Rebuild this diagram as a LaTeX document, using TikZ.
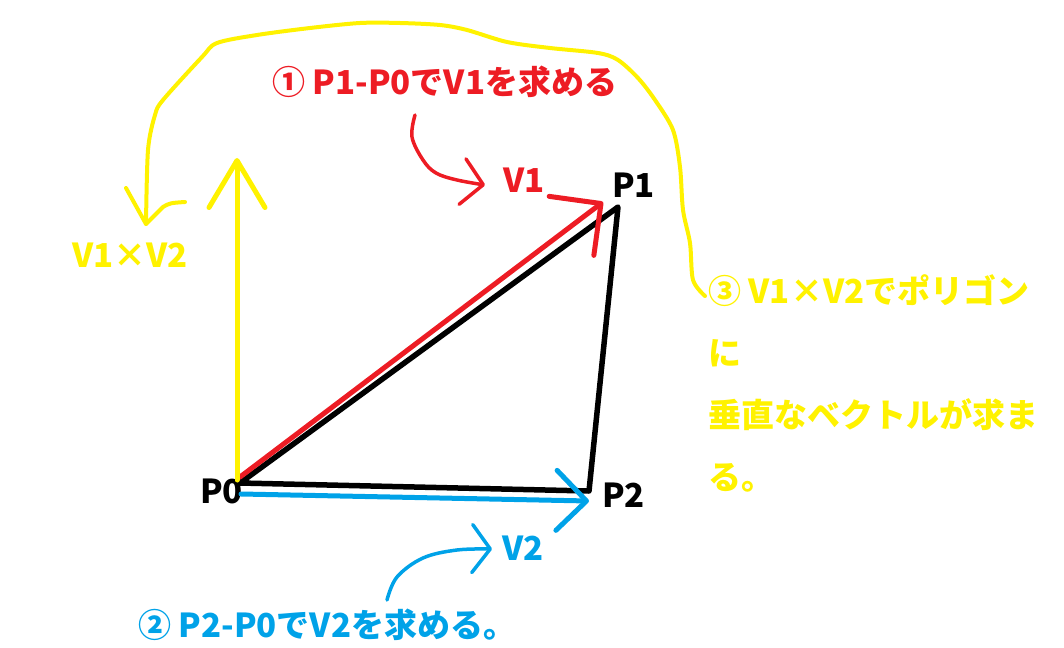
\documentclass[tikz,border=0pt]{standalone}
\usepackage{fontspec}
\setmainfont{Noto Sans CJK JP}
\usetikzlibrary{arrows.meta}
\definecolor{pyellow}{HTML}{FFF200}
\definecolor{pred}{HTML}{ED1C24}
\definecolor{pblue}{HTML}{00A2E8}
\tikzset{
  lbl/.style={font=\fontsize{33}{62}\selectfont\bfseries, inner sep=0pt, anchor=base west, align=left},
  edge/.style={draw=black, line width=5.5pt, line join=round, line cap=round},
  vec/.style={line width=5pt, line cap=round},
  curl/.style={line width=3.5pt, line cap=round, line join=round}
}

\begin{document}
\begin{tikzpicture}[x=1pt, y=-1pt]
    \useasboundingbox (0,0) rectangle (1064,647);
    % triangle corners
    \coordinate (p0) at (240,483);
    \coordinate (p1) at (618,207);
    \coordinate (p2) at (589,491);
    % vector ends
    \coordinate (v1s) at (240,477);
    \coordinate (v1e) at (603,202);
    \coordinate (v2s) at (241,494);
    \coordinate (v2e) at (589,501);
    \coordinate (ns) at (237,480);
    \coordinate (ne) at (237,158);
    \coordinate (ytip) at (146,224);
    % labels
    \node[lbl] (lp0) at (200,503) {P0};
    \node[lbl] (lp1) at (612,197) {P1};
    \node[lbl] (lp2) at (602,507) {P2};
    \node[lbl, text=pred] (lv1) at (503,192) {V1};
    \node[lbl, text=pblue] (lv2) at (502,560) {V2};
    \node[lbl, text=pyellow] (ln) at (72,267) {V1×V2};
    \node[lbl, text=pred] (step1) at (272,95) {① P1-P0でV1を求める};
    \node[lbl, text=pblue] (step2) at (138,637) {② P2-P0でV2を求める。};
    \node[lbl, text=pyellow] (step3) at (708,489) {③ V1×V2でポリゴン\\に\\垂直なベクトルが求ま\\る。};
    % triangle
    \draw[edge] (p0) -- (p1) -- (p2) -- cycle;
    % vectors
    \draw[vec, pred, -{Straight Barb[round, length=37pt, width=74pt]}] (v1s) -- (v1e);
    \draw[vec, pblue, -{Straight Barb[round, length=30pt, width=60pt]}] (v2s) -- (v2e);
    \draw[vec, pyellow, -{Straight Barb[round, length=47pt, width=56pt]}] (ns) -- (ne);
    % pointers to the labels
    \draw[curl, pred, -{Straight Barb[round, length=21pt, width=46pt]}]
      plot[smooth, tension=0.6] coordinates {(415,115) (412,137) (423,160) (436,173) (457,180) (485,185)};
    \draw[curl, pblue, -{Straight Barb[round, length=18pt, width=48pt]}]
      plot[smooth, tension=0.6] coordinates {(387,600) (397,577) (423,558) (457,550) (492,549)};
    \draw[curl, pyellow, line width=4pt]
      plot[smooth, tension=0.5] coordinates {(705,296) (693,280) (690,243) (683,210) (680,167) (673,130)
        (655,100) (638,78) (618,60) (598,53) (550,48) (507,42) (467,30) (440,25) (400,23) (360,23)
        (310,28) (257,35) (217,43) (202,57) (163,100) (155,115) (148,150) (ytip)};
    % hand drawn head of the long pointer
    \draw[curl, pyellow, line width=4pt] ([shift={(-20,-36)}]ytip) -- (ytip) -- ([shift={(17,-17)}]ytip)
      .. controls ([shift={(24,-21)}]ytip) .. ([shift={(39,-22)}]ytip);
\end{tikzpicture}
\end{document}
